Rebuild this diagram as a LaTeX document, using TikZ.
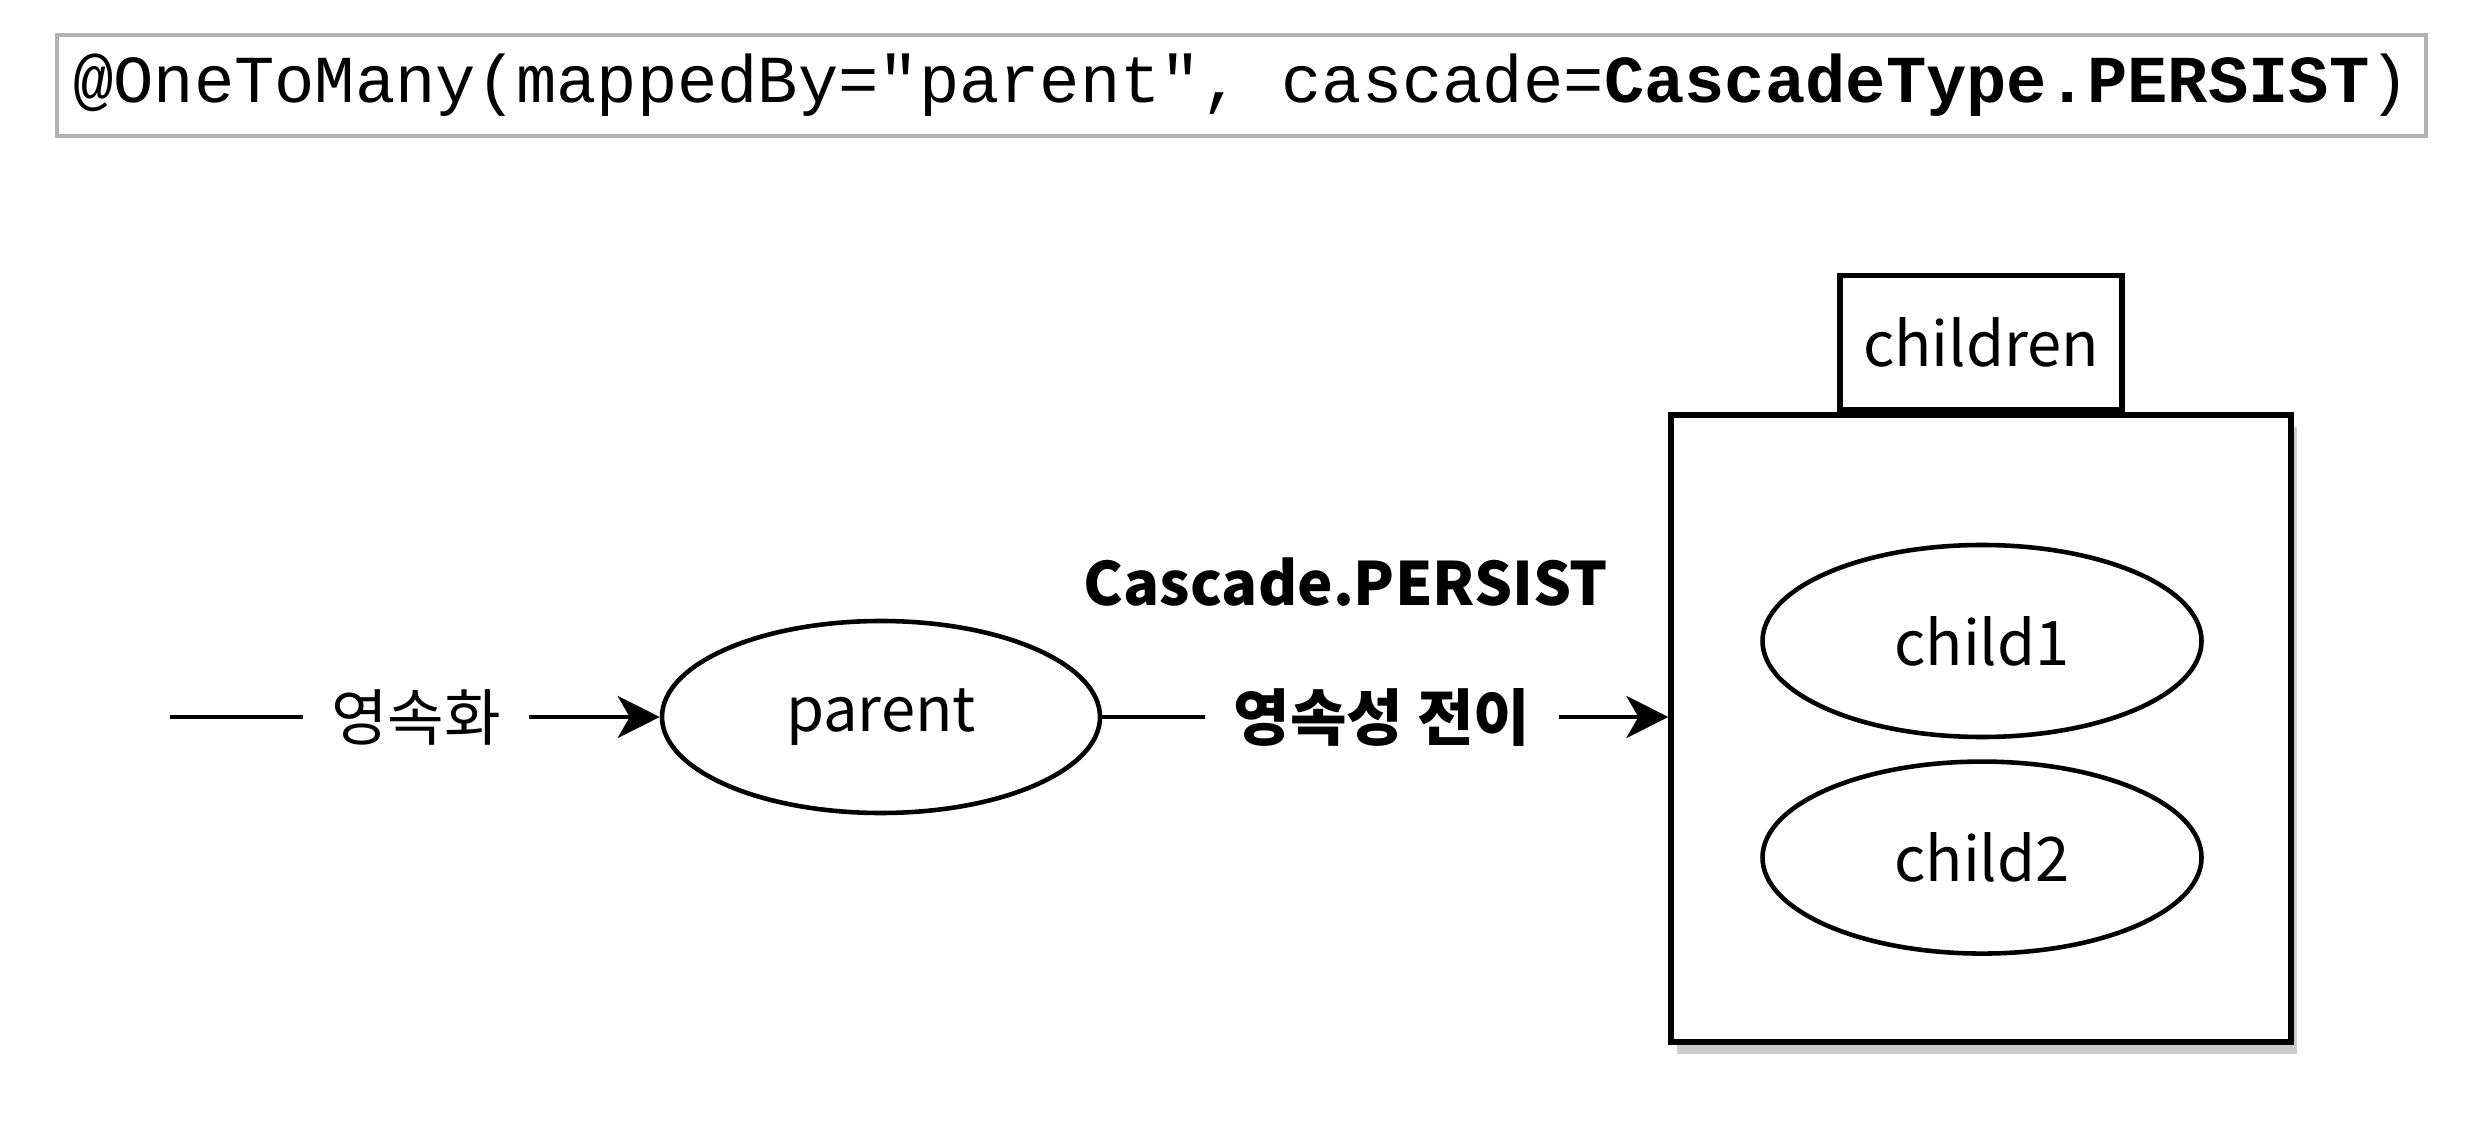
\documentclass[tikz,border=0pt]{standalone}
\usepackage{fontspec}
\setmainfont{Noto Sans CJK KR}
\setmonofont{Liberation Mono}
\usetikzlibrary{positioning}
\usetikzlibrary{arrows.meta}
\usetikzlibrary{shapes.geometric}
\usetikzlibrary{shadows}

\begin{document}
\begin{tikzpicture}[
  every node/.style={font=\fontsize{17.5}{20}\selectfont},
  obj/.style={draw, ellipse, line width=1.3pt, minimum width=4.38cm, minimum height=1.92cm},
  box/.style={draw, line width=1.5pt, fill=white},
  lbl/.style={inner sep=0pt, minimum height=0.8cm},
  conn/.style={line width=1.3pt},
  arr/.style={line width=1.3pt, -{Stealth[length=0.42cm, width=0.42cm, inset=0.12cm]}}
]
\useasboundingbox (0,0) rectangle (24.72,11.2);

% mapping annotation
\node[draw=gray!60, line width=0.9pt, minimum width=23.69cm, minimum height=1.01cm, inner sep=0pt] (code) at (12.415,10.345)
 {\ttfamily\fontsize{19.1}{22}\selectfont @OneToMany(mappedBy="parent", cascade=\textbf{CascadeType.PERSIST})};

% parent side
\coordinate (start) at (1.70,4.03);
\node[lbl, minimum width=2.24cm] (persist) at (4.16,4.03) {영속화};
\node[obj] (parent) at (8.81,4.03) {parent};

\node[lbl, minimum width=3.52cm, font=\bfseries\fontsize{17.5}{20}\selectfont] (transfer) at (13.82,4.03) {영속성 전이};
\node[font=\bfseries\fontsize{17}{20}\selectfont] (cascade) at (13.46,5.38) {Cascade.PERSIST};

% children collection
\node[box, minimum width=6.2cm, minimum height=6.27cm, drop shadow={shadow xshift=0.6mm, shadow yshift=-1.2mm, opacity=0.4}] (children) at (19.81,3.915) {};
\node[box, minimum width=2.82cm, minimum height=1.34cm, anchor=south] (tab) at (children.north) {children};

\node[obj, minimum width=4.39cm] (child1) at (19.82,4.79) {child1};
\node[obj, minimum width=4.39cm, below=0.2cm of child1] (child2) {child2};

\draw[conn] (start) -- (persist.west);
\draw[arr] (persist.east) -- (parent.west);
\draw[conn] (parent.east) -- (transfer.west);
\draw[arr] (transfer.east) -- (transfer.east -| children.west);

\end{tikzpicture}
\end{document}
